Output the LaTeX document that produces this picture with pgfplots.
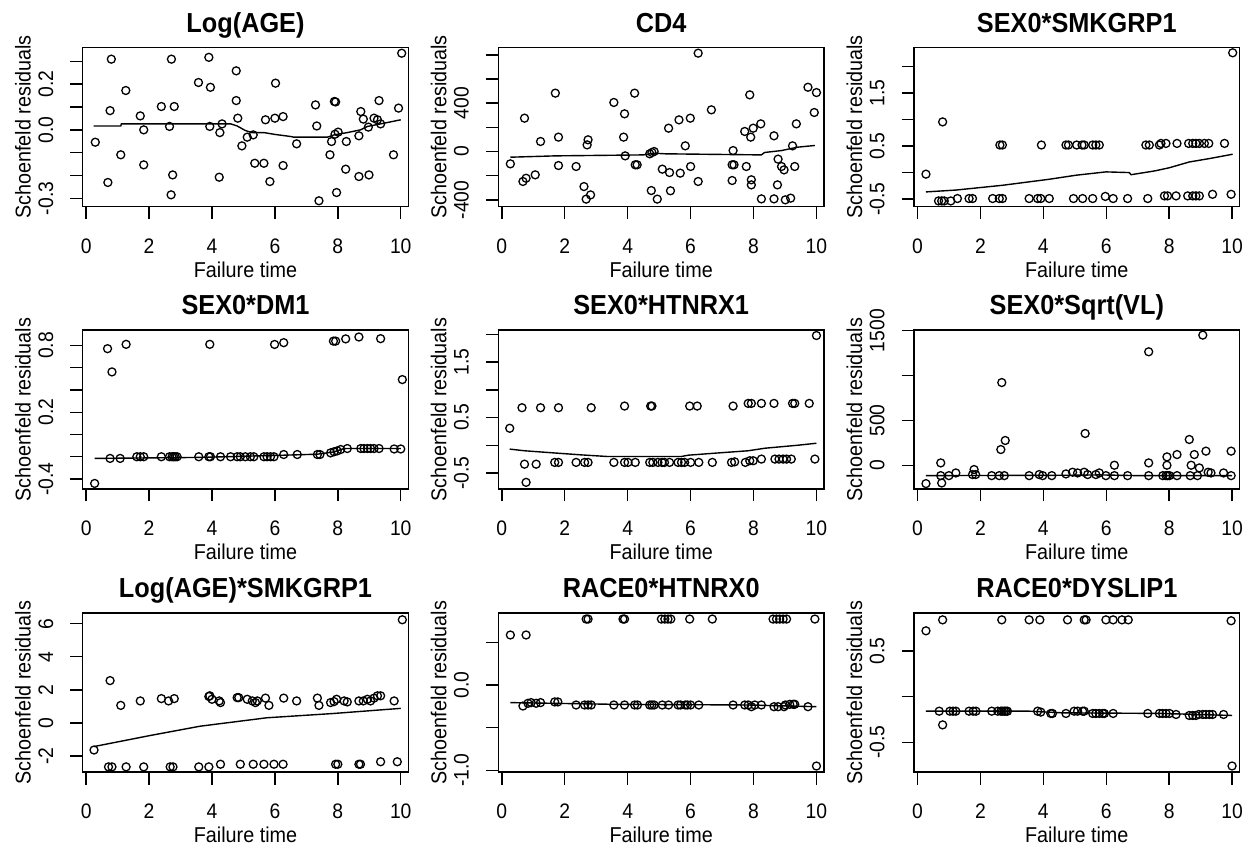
\documentclass[border=0pt]{standalone}
\usepackage{pgfplots}
\pgfplotsset{compat=1.18}
\usepackage{fontspec}
\setmainfont[FakeStretch=0.92]{Liberation Sans}

\pgfplotsset{
  schoen/.style={
    scale only axis, width=325.6pt, height=159pt, anchor=south west,
    xmin=-0.11, xmax=10.24,
    xtick={0,2,4,6,8,10}, xticklabels={0,2,4,6,8,10},
    tick align=outside, major tick length=12.5pt,
    xtick pos=left, ytick pos=left,
    axis line style={line width=1.4pt},
    every tick/.style={black, line width=1.4pt},
    tick label style={font=\fontsize{21}{24}\selectfont},
    xticklabel style={anchor=base, yshift=-34.3pt},
    yticklabel style={xshift=-17.2pt, rotate=90, anchor=base},
    title style={font=\fontsize{27.5}{30}\selectfont\bfseries,
      at={([yshift=9.4pt]rel axis cs:0.5,1)}, anchor=base},
    label style={font=\fontsize{21.5}{24}\selectfont},
    xlabel style={at={([yshift=-70.8pt]rel axis cs:0.5,0)}, anchor=base},
    ylabel style={at={([xshift=-52pt]rel axis cs:0,0.5)}, anchor=base},
    xlabel={Failure time}, ylabel={Schoenfeld residuals},
    clip=false,
  },
  pts/.style={only marks, mark=o, mark size=4pt,
    mark options={line width=1.3pt, black}},
  fit/.style={no marks, black, line width=1.4pt},
}

\begin{document}
\begin{tikzpicture}
\path[use as bounding box] (0,0) rectangle (1247pt,846pt);

% ---------------- row 1 ----------------
\begin{axis}[schoen, at={(82.7pt,639.5pt)}, title={Log(AGE)},
  ymin=-0.335, ymax=0.36,
  ytick={-0.3,-0.2,-0.1,0,0.1,0.2,0.3},
  yticklabels={-0.3,{},{},0.0,{},0.2,{}}]
\addplot[pts] coordinates {
(0.29,-0.054) (0.80,0.309) (0.76,0.084) (0.69,-0.23) (1.10,-0.109)
(1.26,0.172) (1.72,0.061) (1.83,0.0) (1.83,-0.153) (2.39,0.102)
(2.65,0.015) (2.71,0.309) (2.80,0.102) (2.75,-0.197) (2.70,-0.284)
(3.57,0.207) (3.90,0.317) (3.95,0.186) (3.93,0.015) (4.25,-0.012)
(4.32,0.026) (4.23,-0.207) (4.77,0.258) (4.77,0.128) (4.82,0.051)
(4.95,-0.07) (5.12,-0.032) (5.31,-0.022) (5.36,-0.146) (5.65,-0.146)
(5.70,0.044) (5.84,-0.226) (6.00,0.051) (6.02,0.204) (6.26,0.058)
(6.26,-0.156) (6.69,-0.061) (7.29,0.109) (7.33,0.017) (7.40,-0.31)
(7.75,-0.109) (7.80,-0.051) (7.89,0.124) (7.93,0.122) (7.96,-0.274)
(7.91,-0.019) (8.01,-0.01) (8.27,-0.051) (8.25,-0.172) (8.67,-0.026)
(8.73,0.08) (8.67,-0.204) (8.81,0.047) (8.97,0.012) (8.99,-0.197)
(9.15,0.051) (9.26,0.044) (9.31,0.128) (9.36,0.026) (9.77,-0.109)
(9.93,0.095) (10.03,0.335)
};
\addplot[fit] coordinates {
(0.24,0.017) (1.10,0.017) (1.12,0.026) (4.60,0.026) (4.80,0.017)
(5.06,-0.003) (5.27,-0.012) (5.65,-0.012) (6.00,-0.02) (6.50,-0.029)
(6.60,-0.032) (7.67,-0.032) (7.88,-0.022) (8.30,-0.012) (8.72,0.0)
(8.94,0.015) (9.36,0.026) (10.0,0.044)
};
\end{axis}

\begin{axis}[schoen, at={(498.4pt,639.5pt)}, title={CD4},
  ymin=-455, ymax=861,
  ytick={-400,-200,0,200,400,600,800},
  yticklabels={-400,{},0,{},400,{},{}}]
\addplot[pts] coordinates {
(0.27,-102) (0.72,276) (0.67,-248) (0.77,-221) (1.06,-193)
(1.23,83) (1.70,483) (1.80,119) (1.80,-116) (2.36,-124)
(2.61,-290) (2.68,-394) (2.74,97) (2.71,55) (2.82,-359)
(3.56,406) (3.90,312) (3.87,119) (3.92,-36) (4.22,483)
(4.24,-110) (4.30,-110) (4.70,-19) (4.77,-8) (4.84,0)
(4.75,-323) (4.94,-394) (5.10,-146) (5.30,193) (5.33,-174)
(5.36,-325) (5.63,262) (5.67,-179) (5.83,47) (5.99,276)
(6.00,-124) (6.24,-248) (6.24,814) (6.66,345) (7.35,8)
(7.32,-110) (7.38,-110) (7.32,-240) (7.72,166) (7.77,-124)
(7.88,469) (7.91,119) (7.99,193) (7.93,-234) (7.93,-276)
(8.23,229) (8.25,-392) (8.65,130) (8.65,-392) (8.76,-276)
(8.78,-63) (8.89,-124) (8.97,-152) (9.01,-400) (9.18,-386)
(9.24,47) (9.31,-124) (9.36,229) (9.73,532) (10.0,488)
(9.93,323)
};
\addplot[fit] coordinates {
(0.27,-47) (1.70,-36) (4.50,-28) (4.84,-14) (5.20,-19) (8.25,-28)
(8.35,-8) (8.89,8) (9.40,36) (9.95,50)
};
\end{axis}

\begin{axis}[schoen, at={(914pt,639.5pt)}, title={SEX0*SMKGRP1},
  ymin=-0.64, ymax=2.36,
  ytick={-0.5,0,0.5,1,1.5,2},
  yticklabels={-0.5,{},0.5,{},1.5,{}}]
\addplot[pts] coordinates {
(0.27,-0.03) (0.80,0.956)
(0.67,-0.535) (0.77,-0.535) (0.85,-0.535) (1.06,-0.535)
(1.27,-0.49) (1.64,-0.49) (1.75,-0.49) (2.39,-0.49) (2.60,-0.49) (2.70,-0.49)
(2.62,0.52) (2.70,0.52)
(3.55,-0.49) (3.82,-0.49) (3.92,-0.49) (4.19,-0.49)
(3.94,0.52)
(4.72,0.52) (4.80,0.52) (5.06,0.52) (5.23,0.52) (5.30,0.52)
(5.57,0.52) (5.67,0.52) (5.78,0.52)
(4.96,-0.49) (5.25,-0.49) (5.57,-0.49) (5.97,-0.45)
(6.22,-0.49) (6.68,-0.49) (7.32,-0.49)
(7.26,0.52) (7.37,0.52) (7.69,0.52) (7.74,0.55) (7.90,0.55)
(7.85,-0.44) (7.95,-0.44) (8.22,-0.44)
(8.25,0.55) (8.62,0.55) (8.75,0.55) (8.85,0.55) (8.96,0.55)
(9.12,0.55) (9.26,0.55)
(8.59,-0.44) (8.75,-0.44) (8.85,-0.44) (8.96,-0.44)
(9.38,-0.41) (9.76,0.55) (9.97,-0.41) (10.02,2.26)
};
\addplot[fit] coordinates {
(0.27,-0.365) (1.22,-0.33) (2.70,-0.24) (4.19,-0.126) (5.04,-0.05)
(5.99,0.013) (6.73,0.0) (6.79,-0.04) (7.53,0.03) (8.00,0.09)
(8.64,0.2) (9.28,0.264) (10.02,0.346)
};
\end{axis}

% ---------------- row 2 ----------------
\begin{axis}[schoen, at={(82.7pt,357pt)}, title={SEX0*DM1},
  ymin=-0.49, ymax=0.94,
  ytick={-0.4,-0.2,0,0.2,0.4,0.6,0.8},
  yticklabels={-0.4,{},{},0.2,{},{},0.8}]
\addplot[pts] coordinates {
(0.68,0.772) (1.27,0.811) (0.82,0.563) (3.93,0.811) (5.99,0.81)
(6.28,0.826) (7.86,0.84) (7.93,0.84) (8.25,0.86) (8.67,0.877)
(9.36,0.862) (10.05,0.494) (0.27,-0.44)
(0.76,-0.215) (1.08,-0.215) (1.61,-0.2) (1.72,-0.2) (1.83,-0.2)
(2.39,-0.2) (2.65,-0.2) (2.73,-0.2) (2.78,-0.2) (2.83,-0.2) (2.89,-0.2)
(3.58,-0.2) (3.90,-0.2) (3.95,-0.2) (4.27,-0.2) (4.59,-0.2)
(4.80,-0.2) (4.90,-0.2) (5.06,-0.2) (5.22,-0.2) (5.33,-0.2)
(5.65,-0.2) (5.75,-0.2) (5.86,-0.2) (5.97,-0.2)
(6.28,-0.18) (6.71,-0.18) (7.35,-0.18) (7.43,-0.18)
(7.77,-0.165) (7.88,-0.155) (7.98,-0.147) (8.09,-0.135)
(8.30,-0.126) (8.73,-0.126) (8.83,-0.126) (8.94,-0.126) (9.04,-0.126)
(9.15,-0.126) (9.31,-0.126) (9.79,-0.13) (10.0,-0.13)
};
\addplot[fit] coordinates {
(0.27,-0.215) (3.60,-0.206) (6.28,-0.186) (7.35,-0.177) (7.88,-0.156)
(8.20,-0.126) (10.0,-0.126)
};
\end{axis}

\begin{axis}[schoen, at={(498.4pt,357pt)}, title={SEX0*HTNRX1},
  ymin=-0.79, ymax=2.08,
  ytick={-0.5,0,0.5,1,1.5,2},
  yticklabels={-0.5,{},0.5,{},1.5,{}}]
\addplot[pts] coordinates {
(0.25,0.306) (0.64,0.677) (1.23,0.677) (1.80,0.677) (2.84,0.677)
(3.90,0.707) (4.73,0.707) (4.77,0.707) (5.97,0.707) (6.21,0.707)
(7.35,0.707) (7.83,0.755) (7.93,0.755) (8.25,0.755) (8.65,0.755)
(9.24,0.755) (9.31,0.755) (9.77,0.755) (10.0,1.98)
(0.77,-0.67) (0.72,-0.342) (1.09,-0.342) (1.68,-0.31) (1.80,-0.31)
(2.36,-0.31) (2.63,-0.31) (2.74,-0.31) (3.56,-0.31) (3.90,-0.31)
(4.01,-0.31) (4.24,-0.31) (4.70,-0.31) (4.80,-0.31) (4.96,-0.31)
(5.09,-0.31) (5.17,-0.31) (5.33,-0.31) (5.60,-0.31) (5.71,-0.31)
(5.81,-0.31) (6.00,-0.31) (6.26,-0.31) (6.69,-0.31)
(7.30,-0.31) (7.40,-0.30) (7.74,-0.31) (7.88,-0.28) (7.99,-0.28)
(8.25,-0.25) (8.68,-0.25) (8.81,-0.25) (8.94,-0.25) (9.05,-0.25)
(9.20,-0.25) (9.95,-0.25)
};
\addplot[fit] coordinates {
(0.25,-0.07) (0.72,-0.10) (1.78,-0.144) (2.52,-0.174) (3.37,-0.204)
(5.70,-0.204) (5.92,-0.18) (6.76,-0.144) (7.83,-0.1) (8.36,-0.054)
(9.41,0.0) (10.0,0.036)
};
\end{axis}

\begin{axis}[schoen, at={(914pt,357pt)}, title={SEX0*Sqrt(VL)},
  ymin=-265, ymax=1508,
  ytick={0,500,1000,1500},
  yticklabels={0,500,{},1500}]
\addplot[pts] coordinates {
(0.27,-205) (0.74,26) (0.77,-198) (0.74,-116) (1.00,-116) (1.22,-86)
(1.75,-104) (1.85,-104) (1.80,-48)
(2.36,-116) (2.60,-116) (2.76,-116) (2.65,175) (2.79,276) (2.68,922)
(3.55,-116) (3.87,-104) (3.98,-116) (4.27,-116)
(4.72,-97) (4.93,-78) (5.09,-86) (5.30,-78) (5.41,-104) (5.67,-104)
(5.78,-86) (5.99,-116) (6.26,-116) (6.68,-116)
(5.33,354) (6.26,0) (7.35,26) (7.35,1265) (7.35,-116)
(7.80,-116) (7.90,-116) (7.95,-116) (8.01,-116) (7.93,0) (7.93,93)
(8.25,119) (8.25,-116) (8.64,287) (8.70,0) (8.80,119) (8.67,-116)
(8.90,-116) (8.96,-30) (9.07,1451) (9.17,157) (9.24,-78) (9.33,-86)
(9.73,-86) (9.97,157) (9.97,-116)
};
\addplot[fit] coordinates {
(0.27,-116) (4.70,-112) (5.80,-108) (7.00,-116) (10.0,-116)
};
\end{axis}

% ---------------- row 3 ----------------
\begin{axis}[schoen, at={(82.7pt,74pt)}, title={Log(AGE)*SMKGRP1},
  ymin=-2.97, ymax=6.65,
  ytick={-2,0,2,4,6},
  yticklabels={-2,0,2,4,6}]
\addplot[pts] coordinates {
(0.25,-1.64) (0.76,2.56) (1.10,1.06) (1.72,1.33) (2.39,1.47)
(2.62,1.33) (2.80,1.47) (3.93,1.64) (4.00,1.43) (4.27,1.23)
(3.90,1.60) (4.23,1.33) (4.80,1.53) (4.85,1.53) (5.12,1.43)
(5.28,1.33) (5.38,1.23) (5.44,1.33) (5.70,1.5) (5.81,1.06)
(6.28,1.5) (6.69,1.33) (7.35,1.5) (7.40,1.06) (7.77,1.23)
(7.88,1.29) (7.96,1.43) (8.20,1.33) (8.30,1.27) (8.67,1.33)
(8.81,1.33) (8.94,1.43) (9.04,1.33) (9.15,1.5) (9.26,1.64)
(9.36,1.64) (9.79,1.33) (10.05,6.24)
(0.71,-2.66) (0.82,-2.66) (1.27,-2.66) (1.83,-2.66) (2.67,-2.66)
(2.76,-2.66) (3.58,-2.66) (3.90,-2.66) (4.27,-2.5) (4.90,-2.5)
(5.31,-2.5) (5.65,-2.5) (5.97,-2.5) (6.26,-2.5) (7.93,-2.5)
(8.00,-2.5) (8.67,-2.5) (8.72,-2.5) (9.36,-2.35) (9.89,-2.35)
};
\addplot[fit] coordinates {
(0.25,-1.43) (2.04,-0.76) (3.62,-0.2) (5.74,0.31) (7.86,0.57) (10.0,0.88)
};
\end{axis}

\begin{axis}[schoen, at={(498.4pt,74pt)}, title={RACE0*HTNRX0},
  ymin=-1.02, ymax=0.845,
  ytick={-1,-0.5,0,0.5},
  yticklabels={-1.0,{},0.0,{}}]
\addplot[pts] coordinates {
(2.68,0.774) (2.74,0.774) (3.85,0.774) (3.90,0.774) (5.07,0.774)
(5.18,0.774) (5.28,0.774) (5.37,0.774) (5.97,0.774) (6.69,0.774)
(8.62,0.774) (8.73,0.774) (8.83,0.774) (8.94,0.774) (9.05,0.774)
(9.95,0.774) (0.27,0.587) (0.77,0.587) (10.0,-0.95)
(0.67,-0.246) (0.83,-0.214) (0.93,-0.206) (1.09,-0.214) (1.23,-0.206)
(1.68,-0.198) (1.78,-0.198) (2.36,-0.234) (2.63,-0.234) (2.74,-0.234)
(2.84,-0.234) (3.56,-0.234) (3.90,-0.234) (4.22,-0.234) (4.31,-0.234)
(4.70,-0.234) (4.77,-0.234) (4.84,-0.234) (5.10,-0.234) (5.30,-0.234)
(5.60,-0.234) (5.68,-0.234) (5.83,-0.234) (5.90,-0.234) (6.00,-0.234)
(6.26,-0.234) (7.35,-0.234) (7.72,-0.234) (7.83,-0.234) (7.93,-0.254)
(8.04,-0.234) (8.25,-0.234) (8.65,-0.254) (8.78,-0.254) (8.97,-0.254)
(9.01,-0.234) (9.15,-0.226) (9.26,-0.226) (9.31,-0.226) (9.73,-0.254)
};
\addplot[fit] coordinates {
(0.27,-0.206) (3.56,-0.226) (7.83,-0.234) (10.0,-0.254)
};
\end{axis}

\begin{axis}[schoen, at={(914pt,74pt)}, title={RACE0*DYSLIP1},
  ymin=-0.826, ymax=0.915,
  ytick={-0.5,0,0.5},
  yticklabels={-0.5,{},0.5}]
\addplot[pts] coordinates {
(0.80,0.84) (2.68,0.84) (3.55,0.84) (3.89,0.84) (4.77,0.84)
(5.30,0.84) (5.36,0.84) (5.99,0.84) (6.22,0.84) (6.50,0.84)
(6.70,0.84) (9.97,0.83) (0.27,0.72) (10.0,-0.76) (0.80,-0.31)
(0.69,-0.16) (1.03,-0.16) (1.13,-0.16) (1.22,-0.16) (1.64,-0.16)
(1.77,-0.16) (1.86,-0.16) (2.36,-0.16) (2.55,-0.16) (2.65,-0.16)
(2.70,-0.16) (2.76,-0.16) (2.81,-0.16) (2.86,-0.16) (3.82,-0.16)
(3.92,-0.17) (4.24,-0.185) (4.29,-0.185) (4.72,-0.185) (4.98,-0.16)
(5.09,-0.16) (5.25,-0.16) (5.30,-0.16) (5.57,-0.185) (5.67,-0.185)
(5.78,-0.185) (5.89,-0.185) (5.94,-0.185) (6.22,-0.185) (7.32,-0.185)
(7.69,-0.185) (7.79,-0.185) (7.90,-0.185) (8.01,-0.185) (8.22,-0.196)
(8.64,-0.207) (8.75,-0.207) (8.85,-0.207) (8.94,-0.196) (9.07,-0.196)
(9.17,-0.196) (9.28,-0.196) (9.38,-0.196) (9.73,-0.196)
};
\addplot[fit] coordinates {
(0.27,-0.16) (3.55,-0.16) (4.60,-0.178) (7.80,-0.185) (10.0,-0.207)
};
\end{axis}
\end{tikzpicture}
\end{document}
